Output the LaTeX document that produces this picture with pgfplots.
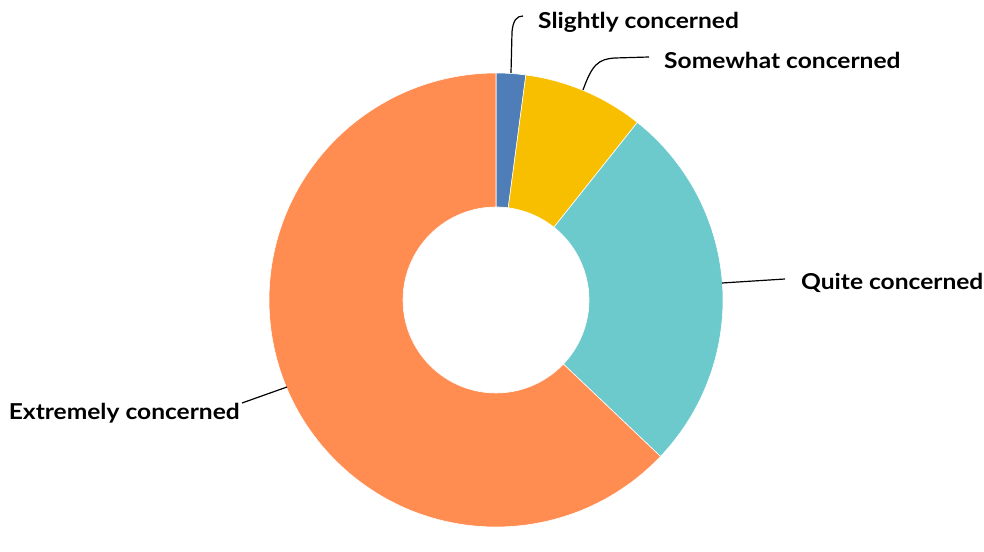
\documentclass[border=0pt]{standalone}
\usepackage{pgfplots}
\usepackage{pgfplotstable}
\pgfplotsset{compat=1.18}
\usepackage{fontspec}
\setmainfont{Lato}[FakeStretch=1.12]

\definecolor{cSlight}{RGB}{79,125,183}
\definecolor{cSome}{RGB}{248,190,0}
\definecolor{cQuite}{RGB}{108,201,204}
\definecolor{cExtreme}{RGB}{255,140,80}

% share of respondents, in percent
\pgfplotstableread{
level      value
Slightly   2.1
Somewhat   8.6
Quite      26.4
Extremely  62.9
}\concern

\pgfplotstablegetelem{0}{value}\of\concern \let\vA\pgfplotsretval
\pgfplotstablegetelem{1}{value}\of\concern \let\vB\pgfplotsretval
\pgfplotstablegetelem{2}{value}\of\concern \let\vC\pgfplotsretval
\pgfplotstablegetelem{3}{value}\of\concern \let\vD\pgfplotsretval

% slice edges, clockwise from 12 o'clock
\pgfmathsetmacro\aA{90}
\pgfmathsetmacro\aB{\aA-3.6*\vA}
\pgfmathsetmacro\aC{\aB-3.6*\vB}
\pgfmathsetmacro\aD{\aC-3.6*\vC}
\pgfmathsetmacro\aE{\aD-3.6*\vD}

\def\cx{496}
\def\cy{227}
\def\R{227}
\def\r{93}

\newcommand\slice[3]{%
  \filldraw[fill=#3,draw=white,line width=0.6pt]
    (axis cs:{\cx+\R*cos(#1)},{\cy+\R*sin(#1)})
    arc[start angle=#1,end angle=#2,radius=\R]
    -- (axis cs:{\cx+\r*cos(#2)},{\cy+\r*sin(#2)})
    arc[start angle=#2,end angle=#1,radius=\r]
    -- cycle;}

\begin{document}
\begin{tikzpicture}
\begin{axis}[
    x=1bp, y=1bp,
    xmin=0, xmax=984, ymin=0, ymax=527,
    hide axis, clip=false,
]
\path (axis cs:0,0) rectangle (axis cs:984,527);

\slice{\aA}{\aB}{cSlight}
\slice{\aB}{\aC}{cSome}
\slice{\aC}{\aD}{cQuite}
\slice{\aD}{\aE}{cExtreme}

% leader lines
\draw[line width=1.2pt] (axis cs:511,454) -- (axis cs:512,495)
  .. controls (axis cs:513,507) and (axis cs:517,511) .. (axis cs:523,511);
\draw[line width=1.2pt] (axis cs:583,437)
  .. controls (axis cs:592,462) and (axis cs:598,468) .. (axis cs:615,469)
  -- (axis cs:649,470);
\draw[line width=1.2pt] (axis cs:722,244) -- (axis cs:785,248);
\draw[line width=1.2pt] (axis cs:287,140) -- (axis cs:242,124);

\begin{scope}[every node/.style={inner sep=0pt,font=\fontsize{22}{26}\selectfont\bfseries}]
\node[anchor=base west] at (axis cs:538,498) {Slightly concerned};
\node[anchor=base west] at (axis cs:664,458) {Somewhat concerned};
\node[anchor=base west] at (axis cs:801,237) {Quite concerned};
\node[anchor=base east] at (axis cs:240,107) {Extremely concerned};
\end{scope}
\end{axis}
\end{tikzpicture}
\end{document}
